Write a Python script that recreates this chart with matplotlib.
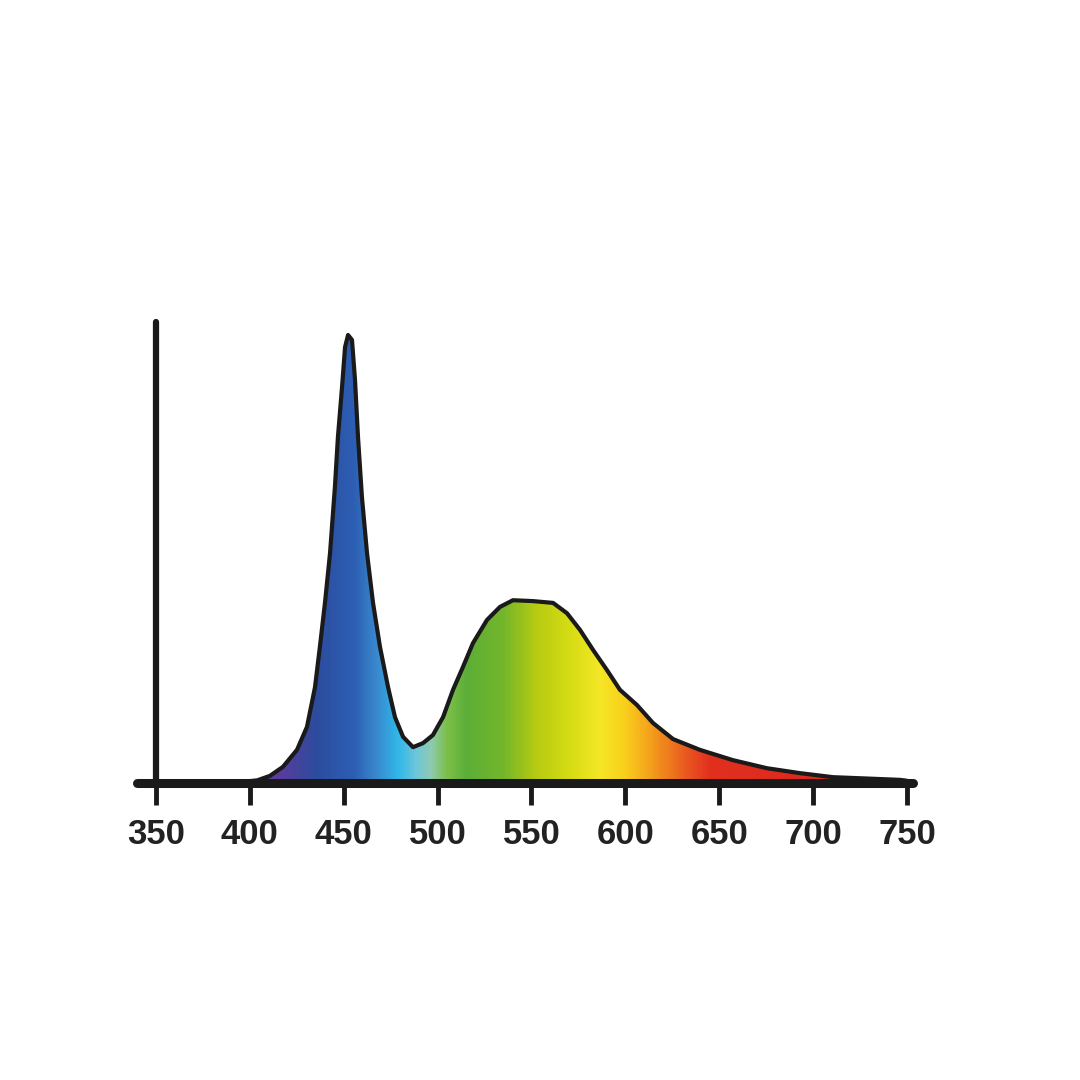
import numpy as np
import matplotlib.pyplot as plt
from matplotlib.colors import LinearSegmentedColormap
from matplotlib.patches import Polygon

# spectrum (wavelength nm, relative intensity)
wavelength = [350, 395, 404, 410.7, 417.6, 425.1, 430.4, 434.7, 437.3, 440.0,
              442.7, 445.3, 446.9, 449.1, 450.7, 452.3, 454.4, 456.0, 457.6,
              459.7, 462.4, 465.6, 469.3, 473.6, 477.3, 481.6, 486.9, 492.2,
              497.5, 502.9, 508.2, 513.5, 518.8, 526.3, 533.2, 540.1, 550.8,
              561.5, 568.9, 575.8, 582.8, 590.2, 597.1, 606.2, 614.7, 625.4,
              639.7, 657.3, 675.4, 693.0, 710.6, 728.7, 746.3, 750]
intensity = [0.0, 0.002, 0.006, 0.016, 0.036, 0.074, 0.125, 0.214, 0.304, 0.402,
             0.513, 0.661, 0.772, 0.884, 0.973, 1.0, 0.989, 0.900, 0.772,
             0.638, 0.513, 0.402, 0.304, 0.214, 0.147, 0.103, 0.080, 0.089,
             0.107, 0.147, 0.208, 0.259, 0.312, 0.364, 0.393, 0.408, 0.406,
             0.402, 0.379, 0.342, 0.297, 0.252, 0.208, 0.174, 0.134, 0.098,
             0.074, 0.051, 0.033, 0.022, 0.013, 0.010, 0.007, 0.005]

ticks = [350, 400, 450, 500, 550, 600, 650, 700, 750]

# colour stops for the rainbow fill
stop_nm = [350, 415, 435, 455, 468, 478, 488, 496, 505, 515, 535, 552, 570,
           586, 600, 615, 632, 645, 750]
stop_col = ["#5a3c9c", "#5a3c9c", "#2c4c9e", "#2d5fb4", "#3a8cd0", "#2fb6e8",
            "#6cc6dc", "#8ecbb0", "#7cbf48", "#5cae38", "#74b62a", "#b6cb12",
            "#d5dc14", "#f5e726", "#f9cf1c", "#f39a1c", "#ea5a20", "#e2301f",
            "#d8231d"]

XMIN, XMAX = 340, 755
YMAX = 1.05

fig = plt.figure(figsize=(10.8, 10.8), dpi=100)
ax = fig.add_axes([137.2 / 1080, 297 / 1080, 779.2 / 1080, YMAX * 448 / 1080])
ax.set_xlim(XMIN, XMAX)
ax.set_ylim(0, YMAX)

span = stop_nm[-1] - stop_nm[0]
cmap = LinearSegmentedColormap.from_list(
    "spec", [((n - stop_nm[0]) / span, c) for n, c in zip(stop_nm, stop_col)])
grad = np.linspace(0, 1, 800).reshape(1, -1)
img = ax.imshow(grad, cmap=cmap, extent=[stop_nm[0], stop_nm[-1], 0, YMAX],
                aspect="auto", zorder=1, interpolation="bilinear")

verts = list(zip(wavelength, intensity)) + [(wavelength[-1], 0), (wavelength[0], 0)]
clip = Polygon(verts, closed=True, transform=ax.transData, facecolor="none",
               edgecolor="none")
ax.add_patch(clip)
img.set_clip_path(clip)

ax.plot(wavelength, intensity, color="#1a1a1a", lw=3, zorder=3,
        solid_joinstyle="round", solid_capstyle="round")

for side in ["top", "right"]:
    ax.spines[side].set_visible(False)
ax.spines["left"].set_position(("data", 350))
ax.spines["left"].set_bounds(0, 1.03)
ax.spines["left"].set_linewidth(4.5)
ax.spines["bottom"].set_bounds(XMIN, 753)
ax.spines["bottom"].set_linewidth(6.5)
for s in ax.spines.values():
    s.set_color("#1a1a1a")
    s.set_zorder(4)
    s.set_capstyle("round")

ax.set_yticks([])
ax.set_xticks(ticks)
ax.set_xticklabels([str(t) for t in ticks])
ax.tick_params(axis="x", direction="out", length=16, width=3.5,
               color="#1a1a1a", pad=9, labelsize=25, labelcolor="#222222")
for lab in ax.get_xticklabels():
    lab.set_fontfamily("Liberation Sans")
    lab.set_fontweight("bold")

ax.patch.set_visible(False)
fig.savefig("out.png", dpi=100, facecolor="white")
